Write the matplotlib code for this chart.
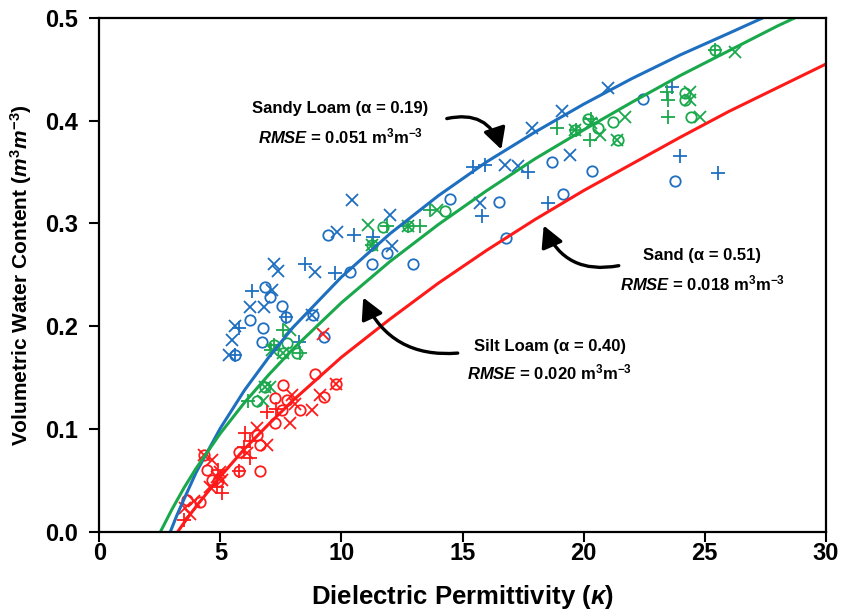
import matplotlib
matplotlib.use("Agg")
import matplotlib.pyplot as plt

plt.rcParams['font.family'] = ['Liberation Sans', 'DejaVu Sans']
plt.rcParams['font.weight'] = 'bold'
plt.rcParams['mathtext.fontset'] = 'custom'
plt.rcParams['mathtext.rm'] = 'Liberation Sans:bold'
plt.rcParams['mathtext.bf'] = 'Liberation Sans:bold'
plt.rcParams['mathtext.it'] = 'Liberation Sans:italic:bold'

BLUE = '#1f6fc1'
GREEN = '#1aa84c'
RED = '#ff1a1a'

# Sandy loam measurements (kappa, theta)
sandy_o_k = [5.6, 6.23, 6.78, 6.71, 6.85, 7.06, 7.54, 7.72, 8.82, 9.29, 9.46, 10.36, 11.25, 11.87,
             12.97, 14.49, 16.52, 16.8, 18.68, 19.16, 20.33, 22.45, 23.77]
sandy_o_t = [0.172, 0.206, 0.198, 0.185, 0.238, 0.229, 0.22, 0.209, 0.211, 0.19, 0.289, 0.253, 0.261, 0.271,
             0.261, 0.324, 0.321, 0.286, 0.36, 0.329, 0.351, 0.421, 0.341]
sandy_x_k = [5.34, 5.48, 5.6, 6.23, 6.82, 7.13, 7.2, 7.4, 8.9, 8.77, 9.8, 10.42, 12.0, 12.08,
             15.72, 16.76, 17.3, 17.86, 19.09, 19.44, 21.02]
sandy_x_t = [0.172, 0.187, 0.2, 0.219, 0.219, 0.235, 0.261, 0.254, 0.253, 0.211, 0.292, 0.323, 0.308, 0.278,
             0.32, 0.357, 0.356, 0.393, 0.409, 0.367, 0.432]
sandy_p_k = [5.61, 5.75, 6.3, 7.72, 8.23, 8.5, 9.74, 10.5, 11.32, 15.45, 15.93, 15.8, 17.71, 18.54,
             23.64, 23.98, 25.56]
sandy_p_t = [0.172, 0.198, 0.234, 0.209, 0.185, 0.261, 0.252, 0.289, 0.287, 0.355, 0.357, 0.307, 0.35, 0.32,
             0.433, 0.366, 0.349]

# Silt loam measurements
silt_o_k = [6.5, 6.85, 7.2, 7.74, 7.6, 8.16, 11.25, 11.7, 12.76, 14.28, 19.64, 20.19, 20.6, 21.22,
            21.43, 24.18, 24.18, 24.42, 25.42]
silt_o_t = [0.127, 0.141, 0.182, 0.184, 0.174, 0.174, 0.279, 0.297, 0.298, 0.312, 0.391, 0.402, 0.393, 0.399,
            0.381, 0.427, 0.42, 0.404, 0.469]
silt_x_k = [6.85, 7.06, 6.78, 7.13, 7.88, 7.6, 11.1, 11.25, 12.76, 13.94, 19.64, 20.3, 20.67, 21.7,
            21.36, 24.39, 24.39, 24.8, 26.25]
silt_x_t = [0.141, 0.141, 0.127, 0.177, 0.196, 0.174, 0.299, 0.279, 0.298, 0.313, 0.391, 0.398, 0.386, 0.404,
            0.381, 0.428, 0.42, 0.404, 0.467]
silt_p_k = [6.16, 7.1, 7.6, 7.2, 8.3, 11.25, 11.9, 12.76, 13.25, 13.66, 18.89, 19.7, 20.26, 20.3,
            23.43, 23.5, 23.5, 25.42]
silt_p_t = [0.127, 0.177, 0.196, 0.182, 0.174, 0.279, 0.298, 0.298, 0.298, 0.313, 0.393, 0.391, 0.381, 0.402,
            0.428, 0.42, 0.404, 0.469]

# Sand measurements
sand_o_k = [3.62, 4.17, 4.31, 4.44, 4.65, 5.75, 6.64, 5.75, 6.5, 6.64, 7.26, 7.54, 7.26, 7.74,
            7.6, 8.3, 8.91, 9.3, 9.78, 4.9]
sand_o_t = [0.031, 0.029, 0.075, 0.06, 0.051, 0.059, 0.059, 0.078, 0.094, 0.085, 0.106, 0.119, 0.13, 0.128,
            0.143, 0.119, 0.154, 0.131, 0.144, 0.05]
sand_x_k = [3.55, 3.76, 3.9, 4.31, 4.58, 4.65, 4.86, 5.0, 5.06, 6.1, 6.5, 6.92, 7.88, 7.95,
            8.09, 8.8, 9.1, 9.23, 9.78]
sand_x_t = [0.023, 0.018, 0.03, 0.075, 0.044, 0.07, 0.054, 0.058, 0.051, 0.077, 0.101, 0.085, 0.106, 0.133,
            0.125, 0.119, 0.133, 0.193, 0.144]
sand_p_k = [3.48, 4.86, 5.06, 5.96, 6.02, 6.23, 6.23, 5.75, 6.92, 4.9, 7.3]
sand_p_t = [0.012, 0.044, 0.038, 0.083, 0.096, 0.089, 0.072, 0.059, 0.117, 0.06, 0.12]

# fitted curves
sandy_curve_k = [2.93, 3.2, 3.5, 4, 5, 6, 7, 8, 10, 12, 14, 16, 18, 20, 22, 24, 26, 27.5]
sandy_curve_t = [0.0, 0.016, 0.032, 0.058, 0.101, 0.138, 0.170, 0.199, 0.248, 0.290, 0.327, 0.360,
                 0.389, 0.416, 0.441, 0.464, 0.485, 0.501]
silt_curve_k = [2.52, 3, 3.5, 4, 5, 6, 7, 8, 10, 12, 14, 16, 18, 20, 22, 24, 26, 28, 29]
silt_curve_t = [0.0, 0.022, 0.043, 0.062, 0.096, 0.126, 0.153, 0.178, 0.223, 0.263, 0.299, 0.332,
                0.363, 0.391, 0.418, 0.444, 0.468, 0.492, 0.503]
sand_curve_k = [3.23, 3.5, 4, 5, 6, 7, 8, 10, 12, 14, 16, 18, 20, 22, 24, 26, 28, 30]
sand_curve_t = [0.0, 0.009, 0.025, 0.054, 0.081, 0.105, 0.128, 0.170, 0.207, 0.242, 0.274, 0.304,
                0.332, 0.358, 0.384, 0.409, 0.432, 0.455]

fig = plt.figure(figsize=(8.41, 6.13), dpi=100)
ax = fig.add_axes([0.118, 0.132, 0.864, 0.839])

ms = 7.5
mew = 1.3
series = [
    (BLUE, sandy_o_k, sandy_o_t, sandy_x_k, sandy_x_t, sandy_p_k, sandy_p_t),
    (GREEN, silt_o_k, silt_o_t, silt_x_k, silt_x_t, silt_p_k, silt_p_t),
    (RED, sand_o_k, sand_o_t, sand_x_k, sand_x_t, sand_p_k, sand_p_t),
]
for c, ok, ot, xk, xt, pk, pt in series:
    ax.plot(ok, ot, 'o', mfc='none', mec=c, ms=ms, mew=mew)
    ax.plot(xk, xt, 'x', color=c, ms=ms + 1, mew=mew)
    ax.plot(pk, pt, '+', color=c, ms=ms + 2, mew=mew)

ax.plot(sandy_curve_k, sandy_curve_t, color=BLUE, lw=2.2)
ax.plot(silt_curve_k, silt_curve_t, color=GREEN, lw=2.2)
ax.plot(sand_curve_k, sand_curve_t, color=RED, lw=2.2)

ax.set_xlim(0, 30)
ax.set_ylim(0, 0.5)
ax.set_xticks([0, 5, 10, 15, 20, 25, 30])
ax.set_yticks([0.0, 0.1, 0.2, 0.3, 0.4, 0.5])
ax.set_yticklabels(['0.0', '0.1', '0.2', '0.3', '0.4', '0.5'])
ax.tick_params(direction='out', length=7, width=1.5, labelsize=17)
ax.tick_params(axis='x', pad=0)
ax.tick_params(axis='y', pad=8)
for s in ax.spines.values():
    s.set_linewidth(1.6)

ax.set_xlabel('Dielectric Permittivity ($\\it{\u03ba}$)', fontsize=18.5, fontweight='bold', labelpad=13)
ax.set_ylabel('Volumetric Water Content ($\\it{m^3m^{-3}}$)', fontsize=15, fontweight='bold', labelpad=8)

txt = dict(fontsize=12, fontweight='bold', ha='center', va='center')
ax.text(9.95, 0.412, 'Sandy Loam (\u03b1 = 0.19)', **txt)
ax.text(9.95, 0.385, '$\\it{RMSE}$ = 0.051 m$^{3}$m$^{-3}$', **txt)
ax.text(24.9, 0.269, 'Sand (\u03b1 = 0.51)', **txt)
ax.text(24.9, 0.242, '$\\it{RMSE}$ = 0.018 m$^{3}$m$^{-3}$', **txt)
ax.text(18.6, 0.18, 'Silt Loam (\u03b1 = 0.40)', **txt)
ax.text(18.6, 0.155, '$\\it{RMSE}$ = 0.020 m$^{3}$m$^{-3}$', **txt)

arr = dict(arrowstyle='-|>,head_length=0.75,head_width=0.4', color='black', lw=2.4,
           mutation_scale=17, shrinkA=0, shrinkB=0)
ax.annotate('', xy=(16.6, 0.372), xytext=(14.35, 0.402),
            arrowprops=dict(connectionstyle='arc3,rad=-0.45', **arr))
ax.annotate('', xy=(18.35, 0.298), xytext=(21.45, 0.259),
            arrowprops=dict(connectionstyle='arc3,rad=-0.4', **arr))
ax.annotate('', xy=(10.9, 0.228), xytext=(14.8, 0.174),
            arrowprops=dict(connectionstyle='arc3,rad=-0.35', **arr))

fig.savefig('out.png', dpi=100)
